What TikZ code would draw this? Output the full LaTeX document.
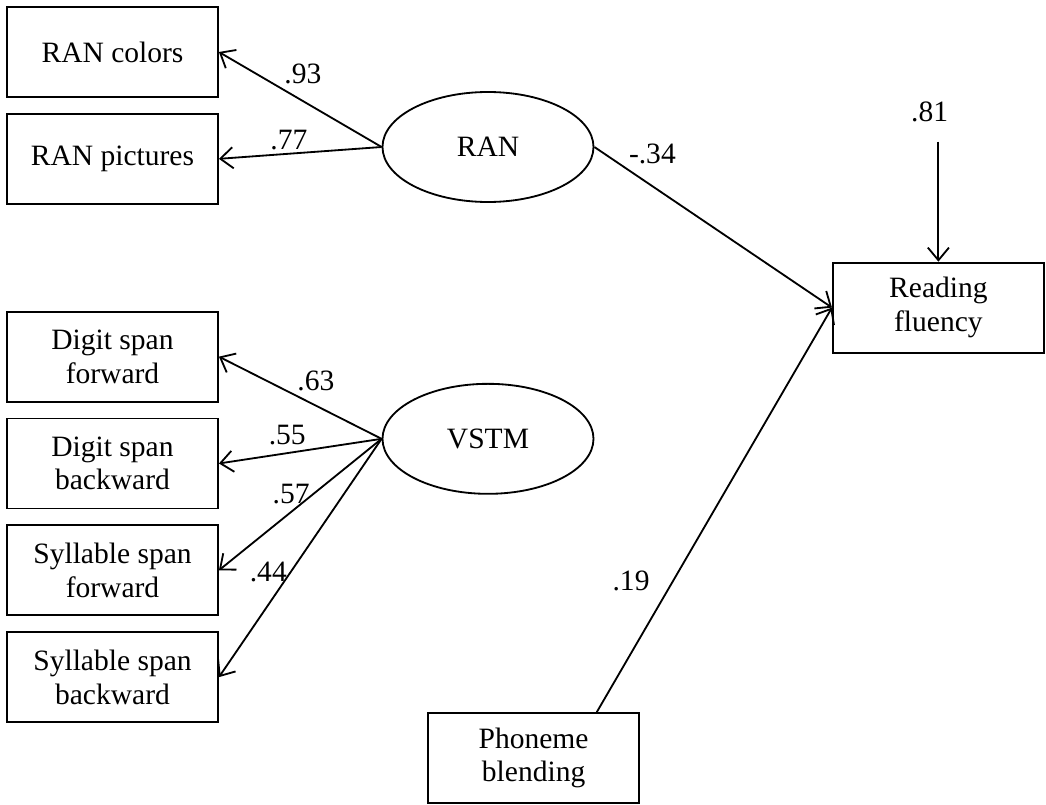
\documentclass[tikz,border=0pt]{standalone}
\usepackage{fontspec}
\setmainfont{Liberation Serif}
\usetikzlibrary{positioning,shapes.geometric,arrows.meta}

\begin{document}
\begin{tikzpicture}[node distance=0.375cm,
    font=\fontsize{21}{24}\selectfont,
    observed/.style={draw, line width=1.3pt, minimum width=5.275cm,
      minimum height=2.25cm, align=center, inner sep=2pt},
    latent/.style={draw, ellipse, line width=1.3pt, minimum width=5.275cm,
      minimum height=2.75cm, inner sep=0pt},
    coef/.style={inner sep=2pt},
    effect/.style={line width=1.3pt, -{Straight Barb[length=9pt,width=15pt]}}]
  \useasboundingbox (0,0) rectangle (26.15,-20.125);
  % Indicators of RAN, stacked at the left edge.
  \node[observed] (rancol) at (2.8125,-1.3) {RAN colors};
  \node[observed] (ranpic) [below=of rancol] {RAN pictures};
  % Indicators of VSTM, same column, same spacing.
  \node[observed] (dsf) [below=2.65cm of ranpic] {Digit span\\forward};
  \node[observed] (dsb) [below=of dsf] {Digit span\\backward};
  \node[observed] (ssf) [below=of dsb] {Syllable span\\forward};
  \node[observed] (ssb) [below=of ssf] {Syllable span\\backward};
  % The two latent factors.
  \node[latent] (ran) at (12.2,-3.675) {RAN};
  \node[latent] (vstm) [below=4.5cm of ran] {VSTM};
  % Outcome and the observed predictor.
  \node[observed] (rf) at (23.46,-7.69) {Reading\\fluency};
  \node[observed] (pb) at (13.34,-18.95) {Phoneme\\blending};
  % Residual of the outcome, drawn as a short arrow from above.
  \coordinate[above=3cm of rf.north] (restop);
  \node[coef] (res) [above=0.41cm of restop, xshift=-0.22cm] {.81};
  \draw[effect] (restop) -- (rf.north);
  % Loadings of RAN
  \path[effect] (ran.west) edge node[coef, pos=0.62, above right] {.93} (rancol.east)
    edge node[coef, pos=0.57, above] {.77} (ranpic.east);
  % Loadings of VSTM
  \path[effect] (vstm.west) edge node[coef, pos=0.54, above right] {.63} (dsf.east)
    edge node[coef, pos=0.58, above=3pt] {.55} (dsb.east)
    edge node[coef, pos=0.42, left] {.57} (ssf.east)
    edge node[coef, pos=0.56, left] {.44} (ssb.east);
  % Paths into reading fluency
  \path[effect] (ran.east) edge node[coef, pos=0.13, above right] {-.34} (rf.west);
  \path[effect] (pb.36) edge node[coef, pos=0.325, left=0.5cm] {.19} (rf.west);
\end{tikzpicture}
\end{document}
